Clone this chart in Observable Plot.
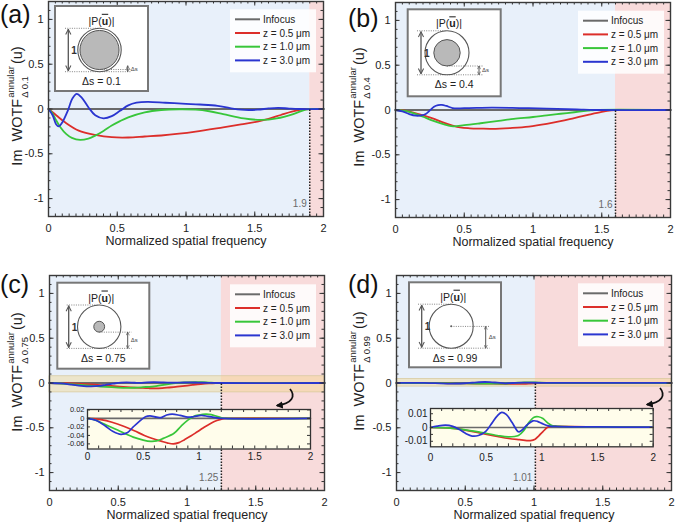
<!DOCTYPE html>
<html><head><meta charset="utf-8">
<script src="https://cdn.jsdelivr.net/npm/d3@7"></script>
<script src="https://cdn.jsdelivr.net/npm/@observablehq/plot@0.6"></script>
<style>
body{margin:0;background:#fff;}
#root{position:relative;width:675px;height:526px;overflow:hidden;font-family:"Liberation Sans",Arial,Helvetica,sans-serif;}
.plab{position:absolute;font-size:25px;line-height:1;color:#111;}
.yt{position:absolute;font-size:14.5px;white-space:nowrap;line-height:1;color:#222;transform:translate(-50%,-50%) rotate(-90deg);}
.st{display:inline-block;vertical-align:middle;font-size:9.5px;line-height:1.05;margin-left:1px;margin-right:2px;text-align:left;}
.st span{display:block;}
.st .sup{position:relative;top:-2px;}
.st .sub{position:relative;top:2px;}
svg{overflow:visible;}
</style></head><body><div id="root"></div>
<script>
// ---------------- data ----------------
const xTicks = [0, 0.5, 1, 1.5, 2];
const yTicks = [-1, -0.5, 0, 0.5, 1];
const insetTicksC = [0.02, 0, -0.02, -0.04, -0.06];
const insetTicksD = [0.01, 0, -0.01];
const seriesNames = ["Infocus", "z = 0.5 μm", "z = 1.0 μm", "z = 3.0 μm"];
const panelLabels = ["(a)", "(b)", "(c)", "(d)"];
const deltaS = ["0.1", "0.4", "0.75", "0.99"];
const cutoffs = [1.9, 1.6, 1.25, 1.01];
const infocus = [[0, 0], [2, 0]];

// panel (a)  Δs = 0.1
const a_z05 = [[0,0],[0.025,-0.03],[0.06,-0.075],[0.12,-0.148],[0.22,-0.241],[0.34,-0.289],[0.46,-0.315],[0.58,-0.318],[0.7,-0.307],[0.82,-0.296],[0.95,-0.276],[1.07,-0.252],[1.27,-0.204],[1.4,-0.172],[1.52,-0.141],[1.6,-0.11],[1.69,-0.067],[1.77,-0.03],[1.83,-0.011],[1.9,0],[2,0]];
const a_z10 = [[0,0],[0.025,-0.04],[0.05,-0.11],[0.085,-0.2],[0.13,-0.28],[0.17,-0.322],[0.23,-0.345],[0.29,-0.33],[0.34,-0.297],[0.4,-0.245],[0.46,-0.185],[0.52,-0.135],[0.58,-0.093],[0.7,-0.037],[0.82,-0.011],[0.95,-0.003],[1.07,-0.007],[1.17,-0.025],[1.27,-0.056],[1.42,-0.104],[1.55,-0.122],[1.66,-0.104],[1.78,-0.056],[1.87,-0.007],[1.9,0],[2,0]];
const a_z30 = [[0,0],[0.03,-0.07],[0.055,-0.17],[0.075,-0.195],[0.1,-0.15],[0.14,-0.02],[0.175,0.12],[0.206,0.168],[0.24,0.13],[0.29,0.02],[0.34,-0.07],[0.4,-0.104],[0.46,-0.08],[0.52,-0.02],[0.58,0.04],[0.64,0.07],[0.72,0.08],[0.85,0.07],[1.0,0.058],[1.1,0.05],[1.23,0.035],[1.32,0.01],[1.4,-0.008],[1.52,-0.008],[1.6,0.006],[1.67,0.013],[1.75,0.005],[1.82,0],[2,0]];

// panel (b)  Δs = 0.4
const b_z05 = [[0,0],[0.06,-0.005],[0.124,-0.026],[0.2,-0.06],[0.27,-0.093],[0.34,-0.135],[0.415,-0.174],[0.47,-0.195],[0.54,-0.204],[0.62,-0.208],[0.7,-0.21],[0.85,-0.2],[0.97,-0.185],[1.1,-0.155],[1.2,-0.125],[1.3,-0.09],[1.4,-0.055],[1.5,-0.022],[1.57,-0.004],[1.6,0],[2,0]];
const b_z10 = [[0,0],[0.07,-0.01],[0.133,-0.037],[0.2,-0.075],[0.255,-0.11],[0.33,-0.15],[0.38,-0.172],[0.42,-0.182],[0.5,-0.17],[0.618,-0.148],[0.75,-0.122],[0.86,-0.1],[1.0,-0.078],[1.1,-0.059],[1.2,-0.042],[1.3,-0.025],[1.4,-0.008],[1.45,0],[2,0]];
const b_z30 = [[0,0],[0.05,-0.015],[0.1,-0.045],[0.148,-0.063],[0.19,-0.06],[0.22,-0.045],[0.25,-0.005],[0.28,0.037],[0.31,0.055],[0.337,0.057],[0.37,0.045],[0.415,0.022],[0.5,0.02],[0.7,0.026],[0.9,0.022],[1.1,0.016],[1.25,0.01],[1.35,0.004],[1.45,0],[2,0]];

// panel (c)  Δs = 0.75
const c_z05 = [[0,0],[0.12,-0.003],[0.22,-0.009],[0.33,-0.019],[0.42,-0.029],[0.51,-0.04],[0.59,-0.048],[0.66,-0.0535],[0.72,-0.058],[0.77,-0.06],[0.82,-0.057],[0.87,-0.05],[0.93,-0.041],[0.985,-0.0315],[1.04,-0.022],[1.1,-0.0125],[1.16,-0.005],[1.21,-0.001],[1.25,0],[2,0]];
const c_z10 = [[0,0],[0.06,-0.003],[0.15,-0.013],[0.27,-0.0275],[0.41,-0.044],[0.5,-0.051],[0.567,-0.054],[0.62,-0.053],[0.68,-0.047],[0.776,-0.035],[0.84,-0.018],[0.9,-0.004],[0.955,0.005],[1.0,0.008],[1.06,0.01],[1.11,0.009],[1.16,0.005],[1.21,0.001],[1.25,0],[2,0]];
const c_z30 = [[0,0],[0.08,-0.005],[0.16,-0.018],[0.23,-0.031],[0.3,-0.0375],[0.36,-0.033],[0.41,-0.02],[0.46,-0.008],[0.52,0.004],[0.56,0.006],[0.62,0.003],[0.66,0.002],[0.71,0.008],[0.76,0.01],[0.83,0.007],[0.9,0.003],[0.95,0.004],[1.02,0.007],[1.08,0.005],[1.15,0.002],[1.22,0],[2,0]];

// panel (d)  Δs = 0.99
const d_z05 = [[0,0],[0.15,-0.0003],[0.25,-0.001],[0.37,-0.0028],[0.494,-0.0048],[0.6,-0.0065],[0.703,-0.008],[0.8,-0.0088],[0.898,-0.0095],[0.94,-0.0085],[0.973,-0.006],[1.01,-0.003],[1.048,0],[1.09,0.001],[1.15,0.0008],[1.5,0.0004],[2,0.0002]];
const d_z10 = [[0,0],[0.15,-0.0003],[0.3,-0.0015],[0.45,-0.0035],[0.6,-0.0058],[0.7,-0.0068],[0.79,-0.0058],[0.84,-0.002],[0.883,0.0036],[0.93,0.0075],[0.97,0.0078],[1.01,0.0065],[1.05,0.0035],[1.09,0.0015],[1.15,0.0008],[1.5,0.0004],[2,0.0002]];
const d_z30 = [[0,0],[0.06,0.001],[0.135,0.0017],[0.2,0.0008],[0.26,-0.0015],[0.32,-0.0045],[0.374,-0.0062],[0.43,-0.0058],[0.494,-0.003],[0.55,0.003],[0.6,0.0085],[0.64,0.011],[0.68,0.0095],[0.733,0.0036],[0.79,-0.0031],[0.82,-0.002],[0.87,0.002],[0.92,0.0048],[0.96,0.0045],[1.0,0.003],[1.06,0.0012],[1.15,0.0007],[1.5,0.0004],[2,0.0003]];

// highlight bands around zero in (c) and (d)
const bandC = [-0.105, 0.075];
const bandD = [-0.04, 0.045];
const insetDomainC = [-0.072, 0.021];
const insetDomainD = [-0.014, 0.0138];

// ---------------- drawing ----------------
const root = document.getElementById("root");
const FONT = '"Liberation Sans", Arial, Helvetica, sans-serif';
const COL = ["#6a6a6a", "#dc2e2a", "#38c63a", "#2a35d0"];
const W = 275, H = 215, ML = 48, MT = 1;

function place(el, left, top) {
  el.style.position = "absolute";
  el.style.left = left + "px";
  el.style.top = top + "px";
  root.appendChild(el);
  return el;
}
const px = d => d[0], py = d => d[1];

function edgeTicks(xs, ys, len, w, h) {
  return [
    Plot.tickX(xs, {x: d => d, insetTop: h - len, stroke: "#333", strokeWidth: 1}),
    Plot.tickX(xs, {x: d => d, insetBottom: h - len, stroke: "#333", strokeWidth: 1}),
    Plot.tickY(ys, {y: d => d, insetRight: w - len, stroke: "#333", strokeWidth: 1}),
    Plot.tickY(ys, {y: d => d, insetLeft: w - len, stroke: "#333", strokeWidth: 1})
  ];
}

function mainPanel(curves, cutoff, band) {
  const marks = [
    Plot.rect([{x1: 0, x2: cutoff}], {x1: "x1", x2: "x2", fill: "#e8f0fa"}),
    Plot.rect([{x1: cutoff, x2: 2}], {x1: "x1", x2: "x2", fill: "#f8dbdb"})
  ];
  if (band) marks.push(Plot.rect([band], {y1: d => d[0], y2: d => d[1], fill: "#f2d27e", fillOpacity: 0.38, stroke: "#d6c89a", strokeWidth: 0.7}));
  marks.push(
    Plot.line(infocus, {x: px, y: py, stroke: COL[0], strokeWidth: 2}),
    ...curves.map((c, i) => Plot.line(c, {x: px, y: py, stroke: COL[i + 1], strokeWidth: 1.8, curve: "catmull-rom"})),
    Plot.ruleX([cutoff], {x: d => d, y1: -1.2, y2: 0, stroke: "#222", strokeWidth: 1.5, strokeDasharray: "1.5,1.5"}),
    Plot.text([cutoff], {x: d => d, text: d => String(d), frameAnchor: "bottom", dy: -10, dx: -3, textAnchor: "end", fill: "#6a6a6a", fontSize: 10}),
    ...edgeTicks(d3.range(0, 2.001, 0.05), d3.range(-1.2, 1.201, 0.1), 2.5, W, H),
    ...edgeTicks(xTicks, yTicks, 4.5, W, H),
    Plot.frame({stroke: "#3a3a3a", strokeWidth: 1.4}),
    Plot.axisX(xTicks, {tickSize: 0, tickPadding: 8, tickFormat: d => String(d), label: null, fontSize: 11, fill: "#222"}),
    Plot.axisY(yTicks, {tickSize: 0, tickPadding: 5, tickFormat: d => String(d), label: null, fontSize: 11, fill: "#222"}),
    Plot.text(["Normalized spatial frequency"], {text: d => d, frameAnchor: "bottom", dy: 28, fontSize: 12.5, fill: "#222"})
  );
  return Plot.plot({
    width: ML + W + 6, height: MT + H + 45,
    marginLeft: ML, marginRight: 6, marginTop: MT, marginBottom: 45,
    x: {domain: [0, 2]}, y: {domain: [-1.2, 1.2]},
    style: {fontFamily: FONT, background: "transparent", overflow: "visible"},
    marks
  });
}

function insetPanel(curves, domain, ticks, minorStep, pad, w, h, fs) {
  return Plot.plot({
    width: 36 + w + 6, height: 2 + h + 18,
    marginLeft: 36, marginRight: 6, marginTop: 2, marginBottom: 18,
    x: {domain: [0, 2]}, y: {domain},
    style: {fontFamily: FONT, background: "transparent", overflow: "visible"},
    marks: [
      Plot.frame({fill: "#fffdeb"}),
      Plot.line(infocus, {x: px, y: py, stroke: COL[0], strokeWidth: 1.6}),
      ...curves.map((c, i) => Plot.line(c, {x: px, y: py, stroke: COL[i + 1], strokeWidth: 1.7, curve: "catmull-rom", clip: true})),
      ...edgeTicks(d3.range(0, 2.001, 0.1), d3.range(Math.ceil(domain[0] / minorStep) * minorStep, domain[1], minorStep), 3, w, h),
      Plot.frame({stroke: "#333", strokeWidth: 1.3}),
      Plot.axisX(xTicks, {tickSize: 0, tickPadding: pad, tickFormat: d => String(d), label: null, fontSize: 10, fill: "#222"}),
      Plot.axisY(ticks, {tickSize: 0, tickPadding: 3, tickFormat: d => String(d), label: null, fontSize: fs, fill: "#222"})
    ]
  });
}

const panels = [
  {L: 48, T: 1, curves: [a_z05, a_z10, a_z30], band: null, lab: [0, 2], yt: [18, 106], leg: [230, 9.3],
   sch: {x: 55, y: 6, w: 93, h: 85, cx: 99.5, cy: 50, r: 21.7, dsx: 127.7, ax: 68.3, lx: 65}},
  {L: 395, T: 2, curves: [b_z05, b_z10, b_z30], band: null, lab: [348, 6], yt: [360, 107], leg: [578, 10.7],
   sch: {x: 407.7, y: 9.3, w: 93, h: 87, cx: 447, cy: 52.8, r: 22, dsx: 479, ax: 421, lx: 417}},
  {L: 49, T: 275, curves: [c_z05, c_z10, c_z30], band: bandC, lab: [0, 272], yt: [18, 372], leg: [230, 284.3],
   sch: {x: 57.3, y: 282.7, w: 92, h: 86, cx: 99.2, cy: 326.7, r: 21.7, dsx: 127.7, ax: 68.7, lx: 66.7}},
  {L: 396, T: 274.5, curves: [d_z05, d_z10, d_z30], band: bandD, lab: [348, 272], yt: [360, 371], leg: [578, 283.3],
   sch: {x: 409, y: 282.3, w: 92, h: 85, cx: 451.2, cy: 326.2, r: 22, dsx: 485.7, ax: 421.7, lx: 418}}
];

panels.forEach((p, i) => {
  place(mainPanel(p.curves, cutoffs[i], p.band), p.L - ML, p.T - MT);
});

// insets
place(insetPanel([c_z05, c_z10, c_z30], insetDomainC, insetTicksC, 0.02, 4, 223, 39.5, 7.5), 87.3 - 36, 408.5 - 2);
place(insetPanel([d_z05, d_z10, d_z30], insetDomainD, insetTicksD, 0.005, 7, 222.7, 38.3, 10), 430 - 36, 408 - 2);

// overlay: schematics, legends, arrows
let s = `<svg xmlns="http://www.w3.org/2000/svg" width="675" height="526" style="position:absolute;left:0;top:0;pointer-events:none;font-family:${FONT}">
<defs>
<marker id="chev" viewBox="0 0 10 10" refX="9" refY="5" markerWidth="5" markerHeight="5" orient="auto-start-reverse"><path d="M1,1 L9,5 L1,9" fill="none" stroke="#555" stroke-width="1.6"/></marker>
<marker id="chev2" viewBox="0 0 10 10" refX="9" refY="5" markerWidth="4" markerHeight="4" orient="auto-start-reverse"><path d="M1,1 L9,5 L1,9" fill="none" stroke="#555" stroke-width="1.6"/></marker>
<marker id="head" viewBox="0 0 10 10" refX="8" refY="5" markerWidth="4" markerHeight="4" orient="auto"><path d="M0,0 L10,5 L0,10 z" fill="#111"/></marker>
</defs>`;

panels.forEach((p, i) => {
  const c = p.sch;
  const ds = +deltaS[i];
  const rin = c.r * (1 - ds);
  const dot = `stroke="#666" stroke-width="0.8" stroke-dasharray="1,1.3"`;
  s += `<rect x="${c.x}" y="${c.y}" width="${c.w}" height="${c.h}" fill="#fff" stroke="#777" stroke-width="2"/>`;
  s += `<line x1="${c.lx}" x2="${c.cx}" y1="${c.cy - c.r}" y2="${c.cy - c.r}" ${dot}/>`;
  s += `<line x1="${c.lx}" x2="${c.dsx + 4}" y1="${c.cy + c.r}" y2="${c.cy + c.r}" ${dot}/>`;
  s += `<circle cx="${c.cx}" cy="${c.cy}" r="${c.r}" fill="#fff" stroke="#555" stroke-width="1.1"/>`;
  if (rin > 1) s += `<circle cx="${c.cx}" cy="${c.cy}" r="${rin}" fill="#b9b9b9" stroke="#555" stroke-width="1"/>`;
  else s += `<circle cx="${c.cx}" cy="${c.cy}" r="1" fill="#555"/>`;
  s += `<line x1="${c.cx}" x2="${c.dsx + 4}" y1="${c.cy + rin}" y2="${c.cy + rin}" ${dot}/>`;
  s += `<line x1="${c.ax}" x2="${c.ax}" y1="${c.cy - c.r + 1}" y2="${c.cy + c.r - 1}" stroke="#555" stroke-width="1.3" marker-start="url(#chev)" marker-end="url(#chev)"/>`;
  s += `<text x="${c.ax + 3}" y="${c.cy + 4}" font-size="10" font-weight="bold" fill="#333">1</text>`;
  const y1 = Math.min(c.cy + rin, c.cy + c.r - 6);
  s += `<line x1="${c.dsx}" x2="${c.dsx}" y1="${y1}" y2="${c.cy + c.r}" stroke="#555" stroke-width="1" marker-start="url(#chev2)" marker-end="url(#chev2)"/>`;
  s += `<text x="${c.dsx + 3}" y="${(y1 + c.cy + c.r) / 2 + 2}" font-size="6" fill="#444">Δs</text>`;
  s += `<text x="${c.cx + 2}" y="${c.cy - c.r - 7.5}" font-size="10.5" fill="#222" text-anchor="middle" dominant-baseline="central">|P(<tspan style="text-decoration:overline" font-weight="bold">u</tspan>)|</text>`;
  s += `<text x="${c.x + c.w / 2}" y="${c.cy + c.r + 9.5}" font-size="10.5" fill="#222" text-anchor="middle" dominant-baseline="central">Δs = ${deltaS[i]}</text>`;

  // legend
  const [lx, ly] = p.leg;
  s += `<rect x="${lx}" y="${ly}" width="86" height="63" fill="#fff" fill-opacity="0.85"/>`;
  seriesNames.forEach((n, k) => {
    const yy = ly + 10 + 13.7 * k;
    s += `<line x1="${lx + 5}" x2="${lx + 30}" y1="${yy}" y2="${yy}" stroke="${COL[k]}" stroke-width="2"/>`;
    s += `<text x="${lx + 33}" y="${yy}" font-size="10" fill="#222" dominant-baseline="central">${n}</text>`;
  });
});
// curved arrows pointing to insets
s += `<path d="M290,389 C296,396 292,404 277,405.5" fill="none" stroke="#111" stroke-width="1.8" marker-end="url(#head)"/>`;
s += `<path d="M660,388 C666,395 662,403 647,404.5" fill="none" stroke="#111" stroke-width="1.8" marker-end="url(#head)"/>`;
s += `</svg>`;
const ov = document.createElement("div");
ov.innerHTML = s;
place(ov, 0, 0);

// panel labels and y titles
panels.forEach((p, i) => {
  const l = document.createElement("div");
  l.className = "plab";
  l.textContent = panelLabels[i];
  place(l, p.lab[0], p.lab[1]);
  const t = document.createElement("div");
  t.className = "yt";
  t.innerHTML = `Im&nbsp; WOTF<span class="st"><span class="sup">annular</span><span class="sub">Δ ${deltaS[i]}</span></span>(u)`;
  place(t, p.yt[0], p.yt[1]);
});
</script></body></html>
